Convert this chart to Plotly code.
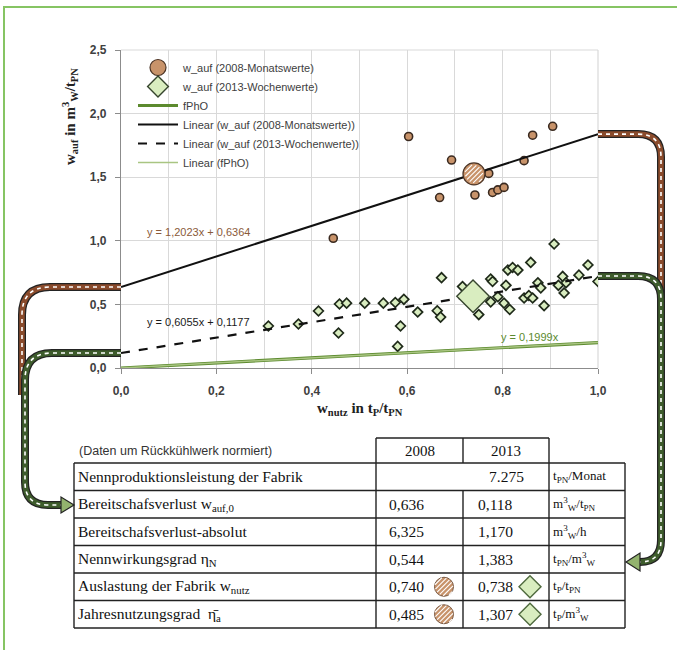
import math
import plotly.graph_objects as go

# ---------------- data ----------------
x_2008 = [0.445, 0.603, 0.668, 0.693, 0.742, 0.771, 0.779, 0.790, 0.803, 0.845, 0.863, 0.905]
y_2008 = [1.02, 1.82, 1.34, 1.635, 1.36, 1.53, 1.38, 1.40, 1.42, 1.63, 1.83, 1.90]

x_2013 = [0.309, 0.372, 0.414, 0.456, 0.458, 0.473, 0.511, 0.550, 0.575, 0.593, 0.586, 0.580,
          0.622, 0.663, 0.670, 0.672, 0.716, 0.733, 0.750, 0.775, 0.779, 0.775, 0.790, 0.807,
          0.803, 0.815, 0.811, 0.821, 0.832, 0.859, 0.845, 0.855, 0.863, 0.874, 0.880, 0.887,
          0.908, 0.926, 0.933, 0.929, 0.917, 0.960, 0.979, 1.000]
y_2013 = [0.33, 0.346, 0.448, 0.275, 0.503, 0.51, 0.51, 0.51, 0.515, 0.54, 0.33, 0.17,
          0.44, 0.45, 0.40, 0.71, 0.64, 0.51, 0.42, 0.70, 0.68, 0.52, 0.56, 0.65,
          0.51, 0.46, 0.77, 0.79, 0.77, 0.83, 0.55, 0.57, 0.55, 0.67, 0.63, 0.49,
          0.975, 0.72, 0.67, 0.59, 0.65, 0.73, 0.81, 0.68]

fpho_x = [0.0, 1.0]
fpho_y = [0.0, 0.1999]

slope_2008, icpt_2008 = 1.2023, 0.6364
slope_2013, icpt_2013 = 0.6055, 0.1177
slope_fpho = 0.1999

mean_x_2008 = 0.740
mean_x_2013 = 0.738

names = ["w_auf (2008-Monatswerte)", "w_auf (2013-Wochenwerte)", "fPhO",
         "Linear (w_auf (2008-Monatswerte))", "Linear (w_auf (2013-Wochenwerte))", "Linear (fPhO)"]

x_ticks = [0.0, 0.2, 0.4, 0.6, 0.8, 1.0]
y_ticks = [0.0, 0.5, 1.0, 1.5, 2.0, 2.5]

table_header = "(Daten um Rückkühlwerk normiert)"
table_years = ["2008", "2013"]
row_labels = ["Nennproduktionsleistung der Fabrik",
              "Bereitschafsverlust w<sub>auf,0</sub>",
              "Bereitschafsverlust-absolut",
              "Nennwirkungsgrad η<sub>N</sub>",
              "Auslastung der Fabrik w<sub>nutz</sub>",
              "Jahresnutzungsgrad  η̄<sub>a</sub>"]
vals_2008 = [None, "0,636", "6,325", "0,544", "0,740", "0,485"]
vals_2013 = ["7.275", "0,118", "1,170", "1,383", "0,738", "1,307"]
row_units = ["t<sub>PN</sub>/Monat", "m<sup>3</sup><sub>W</sub>/t<sub>PN</sub>", "m<sup>3</sup><sub>W</sub>/h",
             "t<sub>PN</sub>/m<sup>3</sup><sub>W</sub>", "t<sub>P</sub>/t<sub>PN</sub>", "t<sub>P</sub>/m<sup>3</sup><sub>W</sub>"]
row_markers = [False, False, False, False, True, True]

# ---------------- geometry helpers (pixels -> paper) ----------------
W, H = 677, 650
PL, PR, PT, PB = 121, 598, 50, 368
XMAX, YMAX = 1.0, 2.5

def xp(px):
    return (px - PL) / (PR - PL)

def yp(py):
    return (PB - py) / (PB - PT)

def d2px(x, y):
    return PL + x / XMAX * (PR - PL), PB - y / YMAX * (PB - PT)

def path(cmds):
    out = []
    for c in cmds:
        if isinstance(c, str):
            out.append(c)
        else:
            out.append(f"{xp(c[0]):.5f},{yp(c[1]):.5f}")
    return " ".join(out)

BROWN = "#8a4b2c"
GREEN_DK = "#3e5c2c"
C_CIRCLE = "#c8936a"
C_DIAM = "#d9edc0"
GRID = "#d9d9d9"

shapes = []
annotations = []

def ann(px, py, text, font, xanchor="center", yanchor="middle", **kw):
    d = dict(xref="paper", yref="paper", x=xp(px), y=yp(py), text=text, showarrow=False,
             xanchor=xanchor, yanchor=yanchor, font=font)
    d.update(kw)
    annotations.append(d)

# plot-area top/right border lines (light, like the gridlines)
shapes.append(dict(type="line", xref="paper", yref="paper", x0=0, x1=1, y0=1, y1=1,
                   line=dict(color=GRID, width=1.2), layer="below"))
shapes.append(dict(type="line", xref="paper", yref="paper", x0=1, x1=1, y0=0, y1=1,
                   line=dict(color=GRID, width=1.2), layer="below"))

# ---------------- traces ----------------
fig = go.Figure()
fig.add_trace(go.Scatter(x=x_2008, y=y_2008, mode="markers", showlegend=False,
                         marker=dict(symbol="circle", size=8, color=C_CIRCLE,
                                     line=dict(color="#3a2a20", width=1.6)), hoverinfo="x+y"))
fig.add_trace(go.Scatter(x=x_2013, y=y_2013, mode="markers", showlegend=False,
                         marker=dict(symbol="diamond", size=7.5, color=C_DIAM,
                                     line=dict(color="#1f2a1a", width=1.7)), hoverinfo="x+y"))
fig.add_trace(go.Scatter(x=fpho_x, y=fpho_y, mode="lines", name=names[2], legendrank=3,
                         line=dict(color="#5c8a2e", width=3.2)))
tx = [0.0, 1.0]
fig.add_trace(go.Scatter(x=tx, y=[icpt_2008 + slope_2008 * v for v in tx], mode="lines",
                         name=names[3], legendrank=4, line=dict(color="#111111", width=2)))
fig.add_trace(go.Scatter(x=tx, y=[icpt_2013 + slope_2013 * v for v in tx], mode="lines",
                         name=names[4], legendrank=5, line=dict(color="#111111", width=2.2, dash="dash")))
fig.add_trace(go.Scatter(x=tx, y=[slope_fpho * v for v in tx], mode="lines",
                         name=names[5], legendrank=6, line=dict(color="#a9c582", width=1.5)))
my08 = icpt_2008 + slope_2008 * mean_x_2008
my13 = icpt_2013 + slope_2013 * mean_x_2013
fig.add_trace(go.Scatter(x=[mean_x_2008], y=[my08], mode="markers", name=names[0], legendrank=1,
                         marker=dict(symbol="circle", size=22, color=C_CIRCLE,
                                     line=dict(color="#4a3426", width=1.2))))
fig.add_trace(go.Scatter(x=[mean_x_2013], y=[my13], mode="markers", name=names[1], legendrank=2,
                         marker=dict(symbol="diamond", size=25, color=C_DIAM,
                                     line=dict(color="#36452e", width=1.4))))

# ---------------- hatching helper ----------------
def hatch(cx, cy, r, spacing=3.4, color="white", width=1.1):
    u = (math.cos(math.radians(45)), -math.sin(math.radians(45)))
    n = (math.sin(math.radians(45)), math.cos(math.radians(45)))
    d = -r + spacing / 2
    while d < r:
        h = math.sqrt(max(r * r - d * d, 0)) * 0.92
        x0 = cx + d * n[0] - h * u[0]; y0 = cy + d * n[1] - h * u[1]
        x1 = cx + d * n[0] + h * u[0]; y1 = cy + d * n[1] + h * u[1]
        shapes.append(dict(type="line", xref="paper", yref="paper", x0=xp(x0), y0=yp(y0),
                           x1=xp(x1), y1=yp(y1), line=dict(color=color, width=width)))
        d += spacing

mcx, mcy = d2px(mean_x_2008, my08)
hatch(mcx, mcy, 9.5)

# ---------------- striped arrows ----------------
def striped(cmds, color):
    p = path(cmds)
    shapes.append(dict(type="path", xref="paper", yref="paper", path=p, line=dict(color="#232323", width=8)))
    shapes.append(dict(type="path", xref="paper", yref="paper", path=p, line=dict(color=color, width=5.5)))
    shapes.append(dict(type="path", xref="paper", yref="paper", path=p,
                       line=dict(color="white", width=1.6, dash="4px,4px")))

def head(tip, base_x, half, color):
    tx_, ty_ = tip
    p = path(["M", (tx_, ty_), "L", (base_x, ty_ - half), "L", (base_x, ty_ + half), "Z"])
    shapes.append(dict(type="path", xref="paper", yref="paper", path=p,
                       fillcolor=color, line=dict(color="#232323", width=1.2)))

_, y08_0 = d2px(0, icpt_2008)
_, y13_0 = d2px(0, icpt_2013)
_, y08_1 = d2px(1, icpt_2008 + slope_2008)
_, y13_1 = d2px(1, icpt_2013 + slope_2013)

striped(["M", (PL, y08_0), "L", (50, y08_0), "Q", (22, y08_0), (22, y08_0 + 28), "L", (22, 395)], BROWN)
striped(["M", (PL, y13_0), "L", (52, y13_0), "Q", (25, y13_0), (25, y13_0 + 27), "L", (25, 482),
         "Q", (25, 505), (48, 505), "L", (62, 505)], GREEN_DK)
head((74, 505), 61, 8, "#93b36e")

striped(["M", (PR, y08_1), "L", (638, y08_1), "Q", (661, y08_1), (661, y08_1 + 23), "L", (661, 300)], BROWN)
striped(["M", (PR, y13_1), "L", (638, y13_1), "Q", (661, y13_1), (661, y13_1 + 23), "L", (661, 540),
         "Q", (661, 562), (640, 562)], GREEN_DK)
head((626, 562), 640, 9, "#93b36e")

# ---------------- outer frame ----------------
shapes.append(dict(type="rect", xref="paper", yref="paper", x0=xp(4), x1=xp(700), y0=yp(7), y1=yp(700),
                   line=dict(color="#86c463", width=2), layer="below"))

# ---------------- equations ----------------
def fmt(v):
    return f"{v:.4f}".replace(".", ",")

EQF = "Liberation Sans"
ann(145, 232, f"y = {fmt(slope_2008)}x + {fmt(icpt_2008)}", dict(family=EQF, size=11, color="#8a5a3a"),
    xanchor="left")
ann(145, 322, f"y = {fmt(slope_2013)}x + {fmt(icpt_2013)}", dict(family=EQF, size=11, color="#1a1a1a"),
    xanchor="left")
ann(499, 337, f"y = {fmt(slope_fpho)}x", dict(family=EQF, size=11, color="#5c8a2e"), xanchor="left")

# axis titles
TTF = dict(family="Liberation Serif", size=15, color="#222", weight="bold")
ann(70, 117, "w<sub>auf</sub> in m<sup>3</sup><sub>W</sub>/t<sub>PN</sub>", TTF, textangle=-90)
ann(360, 409, "w<sub>nutz</sub> in t<sub>P</sub>/t<sub>PN</sub>", TTF)

# ---------------- table ----------------
TL, TR = 74, 625
C1, C2, C3 = 376, 463, 549
HT, T0 = 438, 463
RH = 27.5
TB = T0 + RH * len(row_labels)
LC = "#222222"

def hline(x0, x1, y, w=1.4):
    shapes.append(dict(type="line", xref="paper", yref="paper", x0=xp(x0), x1=xp(x1), y0=yp(y), y1=yp(y),
                       line=dict(color=LC, width=w)))

def vline(x, y0, y1, w=1.4):
    shapes.append(dict(type="line", xref="paper", yref="paper", x0=xp(x), x1=xp(x), y0=yp(y0), y1=yp(y1),
                       line=dict(color=LC, width=w)))

hline(C1, C3, HT)
vline(C1, HT, T0); vline(C2, HT, T0); vline(C3, HT, T0)
for k in range(len(row_labels) + 1):
    hline(TL, TR, T0 + RH * k)
vline(TL, T0, TB); vline(TR, T0, TB)
vline(C1, T0, TB); vline(C3, T0, TB)
vline(C2, T0 + RH, TB)

TXT = dict(family="Liberation Serif", size=15.5, color="#111111")
ann(77, 451, table_header, dict(family="Liberation Sans", size=12.5, color="#333"), xanchor="left")
ann((C1 + C2) / 2, 451, table_years[0], dict(family="Liberation Serif", size=15, color="#111111"))
ann((C2 + C3) / 2, 451, table_years[1], dict(family="Liberation Serif", size=15, color="#111111"))

for k, lab in enumerate(row_labels):
    cy = T0 + RH * (k + 0.5)
    ann(TL + 2, cy, lab, TXT, xanchor="left")
    if vals_2008[k] is not None:
        ann(406, cy, vals_2008[k], TXT)
        ann(495, cy, vals_2013[k], TXT)
    else:
        ann(506, cy, vals_2013[k], TXT)
    ann(C3 + 2, cy, row_units[k], dict(family="Liberation Serif", size=13, color="#111111"), xanchor="left")
    if row_markers[k]:
        r = 9.5
        ccx = 444
        shapes.append(dict(type="circle", xref="paper", yref="paper", x0=xp(ccx - r), x1=xp(ccx + r),
                           y0=yp(cy + r), y1=yp(cy - r), fillcolor=C_CIRCLE, line=dict(color="#7a5a44", width=1)))
        hatch(ccx, cy, r)
        dcx, dr = 530, 11
        shapes.append(dict(type="path", xref="paper", yref="paper",
                           path=path(["M", (dcx, cy - dr), "L", (dcx + dr, cy), "L", (dcx, cy + dr),
                                      "L", (dcx - dr, cy), "Z"]),
                           fillcolor=C_DIAM, line=dict(color="#4f6a3e", width=1.4)))

# ---------------- layout ----------------
axis_font = dict(family="Liberation Sans", size=12, color="#404040", weight="bold")
fig.update_layout(
    width=W, height=H,
    margin=dict(l=PL, r=W - PR, t=PT, b=H - PB, pad=0),
    paper_bgcolor="white", plot_bgcolor="white",
    separators=",.",
    showlegend=True,
    legend=dict(x=xp(133), y=yp(53), xanchor="left", yanchor="top", bgcolor="rgba(255,255,255,0)",
                font=dict(family="Liberation Sans", size=11, color="#404040"),
                itemwidth=40, tracegroupgap=0, traceorder="normal"),
    xaxis=dict(range=[0, XMAX], tickvals=x_ticks, tickformat=".1f", showgrid=True, gridcolor=GRID,
               gridwidth=1, minor=dict(dtick=0.1, showgrid=True, gridcolor=GRID, gridwidth=1, ticks=""),
               showline=True, linecolor="#8c8c8c", linewidth=1.2, ticks="outside", ticklen=5,
               tickcolor="#8c8c8c", zeroline=False, tickfont=axis_font, ticklabelstandoff=6),
    yaxis=dict(range=[0, YMAX], tickvals=y_ticks, tickformat=".1f", showgrid=True, gridcolor=GRID,
               gridwidth=1, showline=True, linecolor="#8c8c8c", linewidth=1.2, ticks="outside", ticklen=5,
               tickcolor="#8c8c8c", zeroline=False, tickfont=axis_font, ticklabelstandoff=6),
    shapes=shapes,
    annotations=annotations,
)

fig.write_html("out.html", config={"displayModeBar": False},
               post_script="document.body.style.margin='0px';")
